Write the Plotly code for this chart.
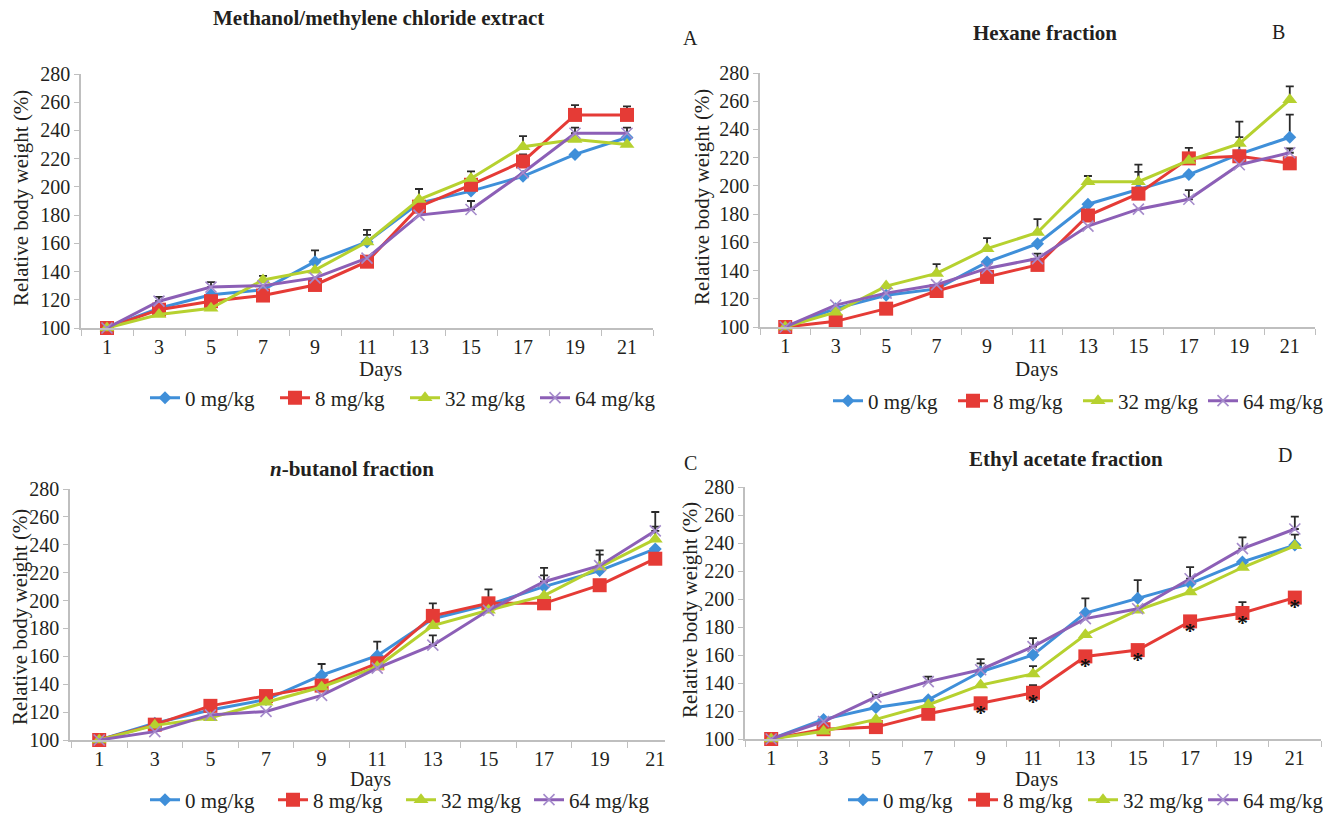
import plotly.graph_objects as go

# ---------------- data ----------------
days = [1, 3, 5, 7, 9, 11, 13, 15, 17, 19, 21]
doses = ["0 mg/kg", "8 mg/kg", "32 mg/kg", "64 mg/kg"]
y_ticks = [100, 120, 140, 160, 180, 200, 220, 240, 260, 280]

panel_titles = ["Methanol/methylene chloride extract", "Hexane fraction",
                "<i>n</i>-butanol fraction", "Ethyl acetate fraction"]
panel_letters = ["A", "B", "C", "D"]

# A: Methanol/methylene chloride extract
a_0 = [100, 114, 123.5, 127, 147, 161, 188.5, 197, 207.5, 223, 235]
a_8 = [100, 113, 119, 123, 130.5, 147, 186, 201.5, 218, 251, 251]
a_32 = [100, 109.5, 114, 134, 141, 161, 191, 206, 228.5, 233.5, 230]
a_64 = [100, 119, 129, 130, 135.5, 149.5, 180, 184, 210, 238, 238]
a_0_err = [None, None, None, None, 8, 8.5, None, None, None, None, 7]
a_8_err = [None, None, None, None, None, None, None, None, 5, 7, 6]
a_32_err = [None, None, None, 3, None, 5, 7.5, 5, 7.5, None, None]
a_64_err = [None, 3, 3.5, None, None, None, None, 6, None, 4, None]

# B: Hexane fraction
b_0 = [100, 113, 122.5, 127, 146, 159, 187, 197.5, 208, 222.5, 234.5]
b_8 = [100, 104, 113, 125.5, 135.5, 144, 179, 194.5, 219.5, 221, 216]
b_32 = [100, 110.5, 129, 138, 155.5, 167, 203, 203, 218, 230, 261]
b_64 = [100, 115.5, 124, 130, 141.5, 148.5, 171.5, 183.5, 190.5, 215, 223.5]
b_0_err = [None, None, None, None, None, None, None, 12.5, None, 12, 16]
b_8_err = [None, None, None, None, None, 8, None, None, 7.5, None, None]
b_32_err = [None, None, None, 6.5, 7.5, 9.5, 4, 12, None, 15.5, 9.5]
b_64_err = [None, None, None, None, None, None, None, None, 6.5, None, 3]

# C: n-butanol fraction
c_0 = [100, 112, 121.5, 129, 146.5, 160.5, 187, 197, 210, 221.5, 237]
c_8 = [100, 111, 124.5, 131.5, 139, 155, 189, 198, 198, 211, 230]
c_32 = [100, 110.5, 116, 127, 138, 152.5, 182, 193, 203.5, 224, 244]
c_64 = [100, 106, 118, 120.5, 132, 151.5, 168, 193, 213.5, 225, 250]
c_0_err = [None, None, None, None, 8, 10, None, None, 8, None, None]
c_8_err = [None, None, None, None, None, None, 9, 10, None, None, None]
c_32_err = [None, None, None, None, None, None, None, None, None, 9, 9]
c_64_err = [None, None, None, None, None, None, 7, None, 10, 11, 13.5]

# D: Ethyl acetate fraction
d_0 = [100, 114, 122.5, 128, 148, 160, 190, 200.5, 211, 226.5, 238.5]
d_8 = [100, 107, 108.5, 118, 125.5, 133, 159, 163.5, 184, 190, 201]
d_32 = [100, 105.5, 114, 124.5, 138.5, 146.5, 174.5, 192, 205, 222.5, 238]
d_64 = [100, 112.5, 130, 141, 149.5, 166, 186, 193, 214.5, 236, 250]
d_0_err = [None, None, None, None, 6, None, 10.5, 13, None, None, None]
d_8_err = [None, None, None, None, None, 5.5, None, None, None, 7.8, None]
d_32_err = [None, None, None, None, None, 5.5, None, None, None, None, 8]
d_64_err = [None, None, 1.5, 3.6, 7.6, 6, None, None, 8.3, 8, 8.8]
d_sig = [False, False, False, False, True, True, True, True, True, True, True]  # * vs control, 8 mg/kg

panels_values = [[a_0, a_8, a_32, a_64], [b_0, b_8, b_32, b_64],
                 [c_0, c_8, c_32, c_64], [d_0, d_8, d_32, d_64]]
panels_errors = [[a_0_err, a_8_err, a_32_err, a_64_err], [b_0_err, b_8_err, b_32_err, b_64_err],
                 [c_0_err, c_8_err, c_32_err, c_64_err], [d_0_err, d_8_err, d_32_err, d_64_err]]

# ---------------- style / layout ----------------
W, H = 1330, 814
FONT = "Liberation Serif"
TXT = "#231F20"
AXC = "#BFBFBF"
colors = ["#3F8FD9", "#E53B36", "#B6D12F", "#8C5FB6"]
symbols = ["diamond", "square", "triangle-up", "x-thin"]
msizes = [10, 14, 13, 11]

# pixel boxes: (left, right), (top, bottom) and x range
panel_boxes = [
    dict(xd=(81, 653), yd=(74, 328), xr=(0, 22)),
    dict(xd=(760, 1315), yd=(73, 327), xr=(0, 22)),
    dict(xd=(70, 665), yd=(489, 740), xr=(-0.05, 21.35)),
    dict(xd=(745, 1321), yd=(487, 739), xr=(0, 22)),
]
title_pos = [(378, 18), (1045, 33), (352, 469), (1066, 459)]
letter_pos = [(690, 38), (1278, 32), (690, 463), (1285, 455)]
ytitle_pos = [(21, 198), (702, 197), (20, 617), (690, 610)]
days_pos = [(380, 369), (1036, 369), (370, 779), (1036, 779)]
days_size = [21, 21, 20, 21]
legend_pos = [(145, 398), (828, 401), (145, 800), (843, 800)]
legend_entry = [85, 80, 83, 75]

def px(x):
    return x / W

def py(y):
    return 1 - y / H

fig = go.Figure()
layout = dict(width=W, height=H, margin=dict(l=0, r=0, t=0, b=0, autoexpand=False),
              paper_bgcolor="white", plot_bgcolor="white",
              font=dict(family=FONT, size=21, color=TXT), annotations=[])

for p in range(4):
    sfx = "" if p == 0 else str(p + 1)
    xa, ya = "x" + sfx, "y" + sfx
    leg = "legend" + sfx
    box = panel_boxes[p]
    vals = panels_values[p]
    errs = panels_errors[p]
    # error bars (plus only), drawn first
    for s in range(4):
        ex = [d for d, e in zip(days, errs[s]) if e is not None]
        ey = [v for v, e in zip(vals[s], errs[s]) if e is not None]
        ee = [e for e in errs[s] if e is not None]
        fig.add_trace(go.Scatter(
            x=ex, y=ey, xaxis=xa, yaxis=ya, mode="markers",
            marker=dict(size=1, opacity=0), showlegend=False, hoverinfo="skip",
            error_y=dict(type="data", symmetric=False, array=ee, arrayminus=[0] * len(ee),
                         color="#2A2A2A", thickness=1.8, width=4),
            cliponaxis=False))
    for s in range(4):
        mk = dict(symbol=symbols[s], size=msizes[s], color=colors[s])
        if symbols[s] == "x-thin":
            mk["line"] = dict(color="#A58BCB", width=1.6)
        fig.add_trace(go.Scatter(
            x=days, y=vals[s], xaxis=xa, yaxis=ya, name=doses[s], legend=leg,
            mode="lines+markers", line=dict(color=colors[s], width=3),
            marker=mk, cliponaxis=False))
    if p == 3:
        fig.add_trace(go.Scatter(
            x=[d for d, f in zip(days, d_sig) if f],
            y=[v for v, f in zip(d_8, d_sig) if f],
            xaxis=xa, yaxis=ya, mode="text", text=["<b>*</b>"] * sum(d_sig),
            textposition="bottom center",
            textfont=dict(family=FONT, size=22, color="#111111"),
            showlegend=False, hoverinfo="skip", cliponaxis=False))

    layout["xaxis" + sfx] = dict(
        domain=[px(box["xd"][0]), px(box["xd"][1])], range=list(box["xr"]),
        anchor=ya, tickmode="array", tickvals=days, ticktext=[str(d) for d in days],
        ticks="", showline=True, linecolor=AXC, linewidth=1.5, showgrid=False,
        zeroline=False, automargin=False, tickfont=dict(family=FONT, size=20, color=TXT),
        minor=dict(tick0=0, dtick=2, ticks="outside", ticklen=6, tickcolor=AXC,
                   tickwidth=1.2, showgrid=False))
    layout["yaxis" + sfx] = dict(
        domain=[py(box["yd"][1]), py(box["yd"][0])], range=[100, 280],
        anchor=xa, tickmode="array", tickvals=y_ticks, ticks="outside", ticklen=5,
        tickcolor=AXC, tickwidth=1.2, showline=True, linecolor=AXC, linewidth=1.5,
        showgrid=False, zeroline=False, automargin=False,
        tickfont=dict(family=FONT, size=20, color=TXT))
    lx, ly = legend_pos[p]
    layout[leg] = dict(orientation="h", x=px(lx), y=py(ly), xanchor="left", yanchor="middle",
                       bgcolor="rgba(0,0,0,0)", font=dict(family=FONT, size=21, color=TXT),
                       itemwidth=30, tracegroupgap=0, entrywidth=legend_entry[p],
                       entrywidthmode="pixels")

    tx, ty = title_pos[p]
    layout["annotations"].append(dict(
        text="<b>" + panel_titles[p] + "</b>", x=px(tx), y=py(ty), xref="paper", yref="paper",
        showarrow=False, xanchor="center", yanchor="middle",
        font=dict(family=FONT, size=21, color=TXT)))
    lx2, ly2 = letter_pos[p]
    layout["annotations"].append(dict(
        text=panel_letters[p], x=px(lx2), y=py(ly2), xref="paper", yref="paper",
        showarrow=False, xanchor="center", yanchor="middle",
        font=dict(family=FONT, size=20, color=TXT)))
    yx, yy = ytitle_pos[p]
    layout["annotations"].append(dict(
        text="Relative body weight (%)", x=px(yx), y=py(yy), xref="paper", yref="paper",
        showarrow=False, textangle=-90, xanchor="center", yanchor="middle",
        font=dict(family=FONT, size=21, color=TXT)))
    dx, dy = days_pos[p]
    layout["annotations"].append(dict(
        text="Days", x=px(dx), y=py(dy), xref="paper", yref="paper",
        showarrow=False, xanchor="center", yanchor="middle",
        font=dict(family=FONT, size=days_size[p], color=TXT)))

fig.update_layout(**layout)
fig.write_html("out.html", config={"displayModeBar": False},
               post_script="document.body.style.margin='0px';document.body.style.overflow='hidden';")
